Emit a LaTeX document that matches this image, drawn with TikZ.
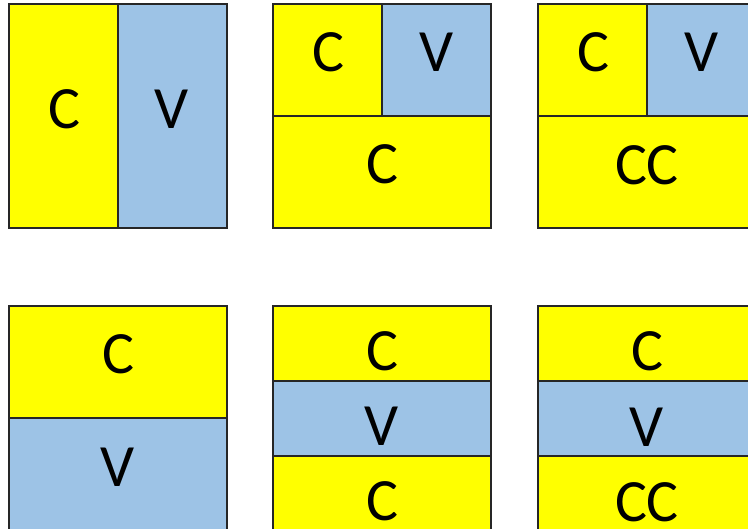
\documentclass[tikz,border=0pt]{standalone}
\usepackage{fontspec}
\setmainfont{Carlito}
\definecolor{cyel}{HTML}{FFFF00}
\definecolor{cblu}{HTML}{9DC3E6}
\definecolor{edge}{HTML}{262626}
\begin{document}
\begin{tikzpicture}[x=1pt,y=-1pt,
 cell/.style={draw=edge,line width=1.2pt,rectangle,inner sep=0pt,outer sep=0pt},
 yel/.style={cell,fill=cyel},
 blu/.style={cell,fill=cblu},
 full/.style={minimum width=218pt},
 half/.style={minimum width=109pt},
 lbl/.style={inner sep=0pt,font=\fontsize{60}{60}\selectfont}]
\useasboundingbox (0,0) rectangle (748,529);
\clip (0,0) rectangle (748,529);
% panel 1
\node[yel,half,minimum height=224pt] (p1c) at (63.5,116) {};
\node[blu,half,minimum height=224pt] (p1v) at (172.5,116) {};
\node[lbl] (t1c) at (64,109) {C};
\node[lbl] (t1v) at (172,109) {V};
% panel 2
\node[yel,half,minimum height=112pt] (p2c) at (327.5,60) {};
\node[blu,half,minimum height=112pt] (p2v) at (436.5,60) {};
\node[yel,full,minimum height=112pt] (p2b) at (382,172) {};
\node[lbl] (t2c) at (328,52) {C};
\node[lbl] (t2v) at (437,52) {V};
\node[lbl] (t2b) at (382,164) {C};
% panel 3
\node[yel,half,minimum height=112pt] (p3c) at (592.5,60) {};
\node[blu,half,minimum height=112pt] (p3v) at (701.5,60) {};
\node[yel,full,minimum height=112pt] (p3b) at (647,172) {};
\node[lbl] (t3c) at (593,52) {C};
\node[lbl] (t3v) at (702,52) {V};
\node[lbl] (t3b) at (647,165) {CC};
% panel 4
\node[yel,full,minimum height=112pt] (p4c) at (118,362) {};
\node[blu,full,minimum height=112pt] (p4v) at (118,474) {};
\node[lbl] (t4c) at (118,354) {C};
\node[lbl] (t4v) at (118,467) {V};
% panel 5
\node[yel,full,minimum height=75pt] (p5c) at (382,343.5) {};
\node[blu,full,minimum height=75pt] (p5v) at (382,418.5) {};
\node[yel,full,minimum height=75pt] (p5b) at (382,493.5) {};
\node[lbl] (t5c) at (382,351) {C};
\node[lbl] (t5v) at (382,426) {V};
\node[lbl] (t5b) at (382,501) {C};
% panel 6
\node[yel,full,minimum height=75pt] (p6c) at (647,343.5) {};
\node[blu,full,minimum height=75pt] (p6v) at (647,418.5) {};
\node[yel,full,minimum height=75pt] (p6b) at (647,493.5) {};
\node[lbl] (t6c) at (647,351) {C};
\node[lbl] (t6v) at (647,427) {V};
\node[lbl] (t6b) at (647,502) {CC};
\end{tikzpicture}
\end{document}
